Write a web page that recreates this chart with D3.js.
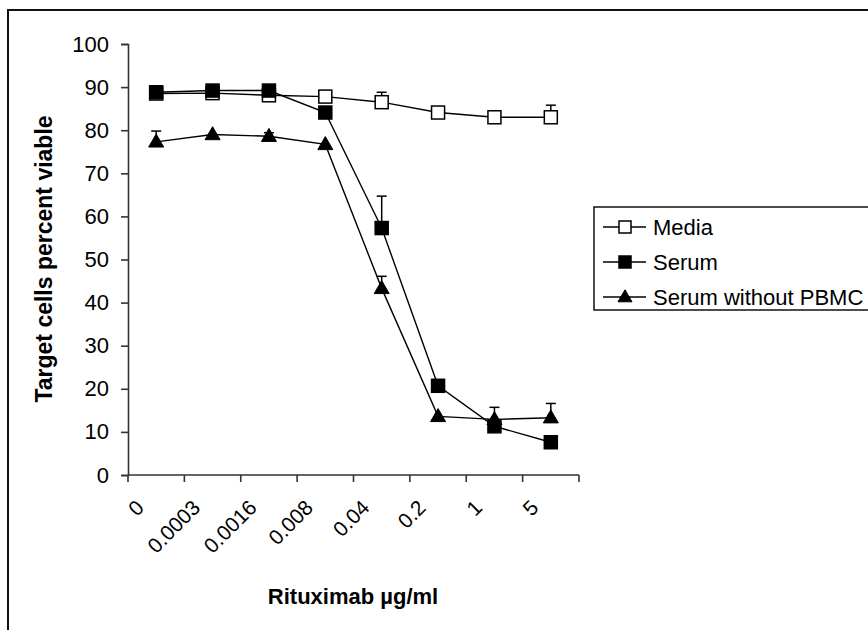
<!DOCTYPE html>
<html>
<head>
<meta charset="utf-8">
<script src="https://cdn.jsdelivr.net/npm/d3@7"></script>
<style>
  html, body { margin: 0; padding: 0; background: #fff; }
  svg { display: block; font-family: Arial, "Liberation Sans", sans-serif; }
</style>
</head>
<body>
<svg id="chart" width="868" height="630"></svg>
<script>
// ---- data ----
const categories = ["0", "0.0003", "0.0016", "0.008", "0.04", "0.2", "1", "5"];
const yTicks = [0, 10, 20, 30, 40, 50, 60, 70, 80, 90, 100];
const seriesNames = ["Media", "Serum", "Serum without PBMC"];
const mediaValues = [88.5, 88.6, 88.1, 87.8, 86.5, 84.1, 83.0, 83.0];
const mediaErrors = [0, 0, 0, 1.3, 2.3, 0, 0, 2.8];
const serumValues = [88.8, 89.2, 89.2, 84.1, 57.3, 20.7, 11.3, 7.6];
const serumErrors = [0, 0, 0, 0, 7.4, 0, 0, 0];
const pbmcValues = [77.3, 79.0, 78.6, 76.7, 43.3, 13.6, 12.9, 13.3];
const pbmcErrors = [2.5, 0, 0.8, 0, 2.8, 0, 2.8, 3.3];
const xTitle = "Rituximab \u00b5g/ml";
const yTitle = "Target cells percent viable";

// ---- layout ----
const svg = d3.select("#chart");
const pLeft = 128, pRight = 579, pTop = 44, pBottom = 475;

const x = d3.scaleBand().domain(categories).range([pLeft, pRight]).padding(0);
const y = d3.scaleLinear().domain([0, 100]).range([pBottom, pTop]);

// outer frame
svg.append("rect")
  .attr("x", 8).attr("y", 10)
  .attr("width", 900).attr("height", 700)
  .attr("fill", "none").attr("stroke", "#111").attr("stroke-width", 2);

const axisColor = "#333";

// y axis
const yAxis = svg.append("g")
  .attr("transform", `translate(${pLeft},0)`)
  .call(d3.axisLeft(y).tickValues(yTicks).tickSize(7).tickPadding(12).tickFormat(d3.format("d")));
yAxis.select(".domain").attr("stroke", axisColor).attr("stroke-width", 1.6);
yAxis.selectAll(".tick line").attr("stroke", axisColor).attr("stroke-width", 1.6);
yAxis.selectAll(".tick text")
  .attr("font-size", 22).attr("fill", "#000")
  .attr("font-family", "Arial, 'Liberation Sans', sans-serif");

// x axis: line and boundary ticks
const xg = svg.append("g");
xg.append("line")
  .attr("x1", pLeft).attr("x2", pRight).attr("y1", pBottom).attr("y2", pBottom)
  .attr("stroke", axisColor).attr("stroke-width", 1.6);
const boundaries = categories.map(c => x(c)).concat([x(categories[categories.length - 1]) + x.bandwidth()]);
xg.selectAll("line.tk").data(boundaries).join("line")
  .attr("class", "tk")
  .attr("x1", d => d).attr("x2", d => d)
  .attr("y1", pBottom).attr("y2", pBottom + 7)
  .attr("stroke", axisColor).attr("stroke-width", 1.6);
xg.selectAll("text.xl").data(categories).join("text")
  .attr("class", "xl")
  .attr("text-anchor", "end")
  .attr("font-size", 21)
  .attr("transform", d => `translate(${x(d) + x.bandwidth() / 2 - 11},${pBottom + 34}) rotate(-45)`)
  .text(d => d);

// titles
svg.append("text")
  .attr("x", 353).attr("y", 604)
  .attr("text-anchor", "middle")
  .attr("font-size", 22).attr("font-weight", "bold")
  .text(xTitle);
svg.append("text")
  .attr("transform", `translate(52,259) rotate(-90)`)
  .attr("text-anchor", "middle")
  .attr("font-size", 23).attr("font-weight", "bold")
  .text(yTitle);

// series
const cx = c => x(c) + x.bandwidth() / 2;
const series = [
  { name: seriesNames[0], values: mediaValues, errors: mediaErrors, shape: "square", fill: "#fff" },
  { name: seriesNames[1], values: serumValues, errors: serumErrors, shape: "square", fill: "#000" },
  { name: seriesNames[2], values: pbmcValues, errors: pbmcErrors, shape: "triangle", fill: "#000" }
];

const line = d3.line().x(d => cx(d.c)).y(d => y(d.v));

function drawMarker(g, shape, fill, px, py, size) {
  if (shape === "square") {
    g.append("rect")
      .attr("x", px - size / 2).attr("y", py - size / 2)
      .attr("width", size).attr("height", size)
      .attr("fill", fill).attr("stroke", "#000").attr("stroke-width", 1.5);
  } else {
    const w = size + 2, h = size;
    g.append("path")
      .attr("d", `M${px},${py - h * 0.6} L${px + w / 2},${py + h * 0.4} L${px - w / 2},${py + h * 0.4} Z`)
      .attr("fill", fill).attr("stroke", "#000").attr("stroke-width", 1);
  }
}

series.forEach(s => {
  const g = svg.append("g");
  const pts = categories.map((c, i) => ({ c, v: s.values[i], e: s.errors[i] }));
  // error bars (plus only)
  pts.filter(p => p.e > 0).forEach(p => {
    g.append("line")
      .attr("x1", cx(p.c)).attr("x2", cx(p.c))
      .attr("y1", y(p.v)).attr("y2", y(p.v + p.e))
      .attr("stroke", "#000").attr("stroke-width", 1.5);
    g.append("line")
      .attr("x1", cx(p.c) - 5).attr("x2", cx(p.c) + 5)
      .attr("y1", y(p.v + p.e)).attr("y2", y(p.v + p.e))
      .attr("stroke", "#000").attr("stroke-width", 1.5);
  });
  g.append("path")
    .datum(pts)
    .attr("d", line)
    .attr("fill", "none").attr("stroke", "#000").attr("stroke-width", 1.4);
  pts.forEach(p => drawMarker(g, s.shape, s.fill, cx(p.c), y(p.v), 13));
});

// legend
const lg = svg.append("g");
lg.append("rect")
  .attr("x", 594).attr("y", 207).attr("width", 300).attr("height", 103)
  .attr("fill", "#fff").attr("stroke", "#111").attr("stroke-width", 1.5);
series.forEach((s, i) => {
  const ly = 227 + i * 35;
  lg.append("line")
    .attr("x1", 603).attr("x2", 646).attr("y1", ly).attr("y2", ly)
    .attr("stroke", "#000").attr("stroke-width", 1.4);
  drawMarker(lg, s.shape, s.fill, 625, ly, 12);
  lg.append("text")
    .attr("x", 653).attr("y", ly)
    .attr("dy", "0.36em")
    .attr("font-size", 22)
    .text(s.name);
});
</script>
</body>
</html>
